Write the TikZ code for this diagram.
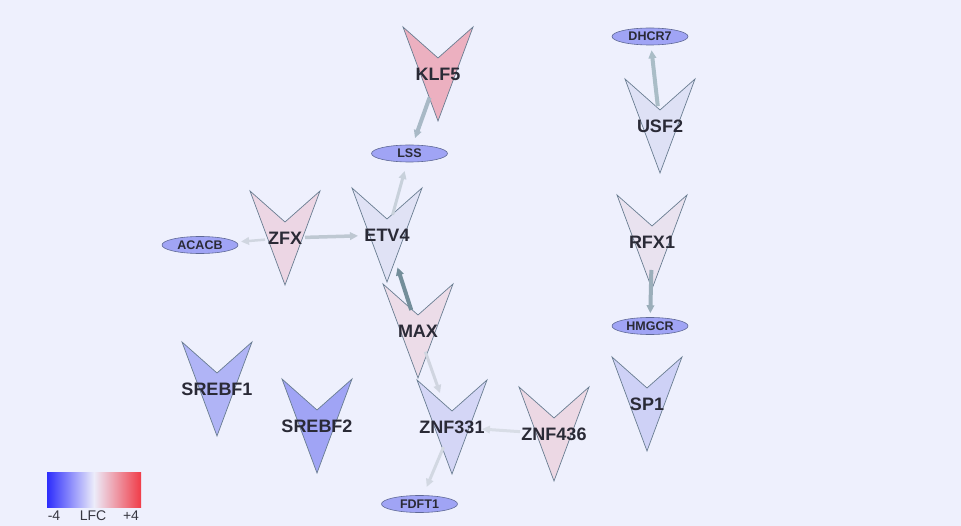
\documentclass[tikz,border=0pt]{standalone}
\usepackage{fontspec}
\setmainfont{Liberation Sans}
\usetikzlibrary{shapes.geometric,arrows.meta,calc}

\definecolor{bgc}{RGB}{238,240,253}
\definecolor{labelc}{RGB}{42,42,54}
\definecolor{chevline}{RGB}{105,125,145}
\definecolor{metfill}{RGB}{160,164,245}
\definecolor{metline}{RGB}{95,105,150}
% node fills (log fold change colours)
\definecolor{cKLF}{RGB}{236,176,192}
\definecolor{cZFX}{RGB}{236,214,228}
\definecolor{cETV}{RGB}{224,226,245}
\definecolor{cMAX}{RGB}{236,220,232}
\definecolor{cZNFa}{RGB}{212,214,246}
\definecolor{cZNFb}{RGB}{236,216,228}
\definecolor{cUSF}{RGB}{222,225,245}
\definecolor{cRFX}{RGB}{233,226,239}
\definecolor{cSP}{RGB}{206,209,246}
\definecolor{cSRa}{RGB}{176,180,246}
\definecolor{cSRb}{RGB}{160,164,245}
% edge colours
\definecolor{eA}{RGB}{168,185,198}
\definecolor{eB}{RGB}{200,209,219}
\definecolor{eC}{RGB}{190,200,210}
\definecolor{eD}{RGB}{208,214,224}
\definecolor{eE}{RGB}{115,142,154}
\definecolor{eF}{RGB}{208,213,224}
\definecolor{eG}{RGB}{216,221,230}
\definecolor{eH}{RGB}{210,216,226}
\definecolor{eI}{RGB}{170,189,199}
\definecolor{eJ}{RGB}{155,174,186}
% legend
\definecolor{lblue}{RGB}{45,45,252}
\definecolor{lmid}{RGB}{236,236,250}
\definecolor{lred}{RGB}{240,60,72}
\definecolor{legtext}{RGB}{55,55,65}

\pgfdeclarelayer{bg}
\pgfsetlayers{bg,main}

\tikzset{
  gene/.style={font=\bfseries\fontsize{18pt}{20pt}\selectfont, text=labelc, inner sep=0pt},
  chev/.style={draw=chevline, line width=0.7pt, line join=miter},
  metab/.style={ellipse, draw=metline, line width=0.6pt, fill=metfill,
    minimum width=76pt, minimum height=17pt, inner sep=0pt,
    font=\bfseries\fontsize{12.5pt}{14pt}\selectfont, text=labelc},
  link/.style={-{Triangle[length=8pt,width=7.5pt]}, line cap=butt},
  legendtxt/.style={font=\fontsize{14pt}{16pt}\selectfont, text=legtext, inner sep=0pt},
}

% gene node: label at the centre of a downward chevron
\newcommand\genenode[5]{%
  \node[gene] (#1) at (#2,-#3) {#5};
  \begin{pgfonlayer}{bg}
    \filldraw[chev, fill=#4]
      ([shift={(-35,47)}]#1.center) -- ([shift={(0,16)}]#1.center)
      -- ([shift={(35,47)}]#1.center) -- ([shift={(0,-47)}]#1.center) -- cycle;
  \end{pgfonlayer}
}

\begin{document}
\begin{tikzpicture}[x=1pt,y=1pt]
\begin{pgfonlayer}{bg}
  \fill[bgc] (0,0) rectangle (961,-526);
\end{pgfonlayer}
\useasboundingbox (0,0) rectangle (961,-526);

% transcription factors
\genenode{klf5}{438}{74}{cKLF}{KLF5}
\genenode{zfx}{285}{238}{cZFX}{ZFX}
\genenode{etv4}{387}{235}{cETV}{ETV4}
\genenode{max}{418}{331}{cMAX}{MAX}
\genenode{znf331}{452}{427}{cZNFa}{ZNF331}
\genenode{znf436}{554}{434}{cZNFb}{ZNF436}
\genenode{usf2}{660}{126}{cUSF}{USF2}
\genenode{rfx1}{652}{242}{cRFX}{RFX1}
\genenode{sp1}{647}{404}{cSP}{SP1}
\genenode{srebf1}{217}{389}{cSRa}{SREBF1}
\genenode{srebf2}{317}{426}{cSRb}{SREBF2}

% target genes
\node[metab] (lss)   at (409.5,-153.5) {LSS};
\node[metab] (dhcr7) at (650,-36.5)    {DHCR7};
\node[metab] (hmgcr) at (650,-326)     {HMGCR};
\node[metab] (acacb) at (200,-245)     {ACACB};
\node[metab] (fdft1) at (419.5,-504)   {FDFT1};

% regulatory links
\draw[link, line width=4pt, draw=eA, shorten <=25pt, shorten >=7pt] (klf5.center) -- (lss);
\draw[link, line width=3pt, draw=eB, shorten <=21pt, shorten >=9pt] (etv4.center) -- (lss);
\draw[link, line width=3.5pt, draw=eC, shorten <=20pt, shorten >=29pt] (zfx.center) -- (etv4.center);
\draw[link, line width=2.5pt, draw=eD, shorten <=20pt, shorten >=5pt] (zfx.center) -- (acacb);
\draw[link, line width=4pt, draw=eE, shorten <=22pt, shorten >=34pt] (max.center) -- (etv4.center);
\draw[link, line width=3pt, draw=eF, shorten <=22pt, shorten >=36pt] (max.center) -- (znf331.center);
\draw[link, line width=3pt, draw=eG, shorten <=34pt, shorten >=30pt] (znf436.center) -- (znf331.center);
\draw[link, line width=3pt, draw=eH, shorten <=22pt, shorten >=9pt] (znf331.center) -- (fdft1);
\draw[link, line width=4pt, draw=eI, shorten <=20pt, shorten >=5pt] (usf2.center) -- (dhcr7);
\draw[link, line width=4pt, draw=eJ, shorten <=28pt, shorten >=4pt] (rfx1.center) -- (hmgcr);

% colour scale
\shade[left color=lblue, right color=lred, middle color=lmid] (47,-472) rectangle (141,-507);
\node[legendtxt] (lmin) at (54,-516) {-4};
\node[legendtxt] (llab) at (93,-516) {LFC};
\node[legendtxt] (lmax) at (131,-516) {+4};
\end{tikzpicture}
\end{document}
